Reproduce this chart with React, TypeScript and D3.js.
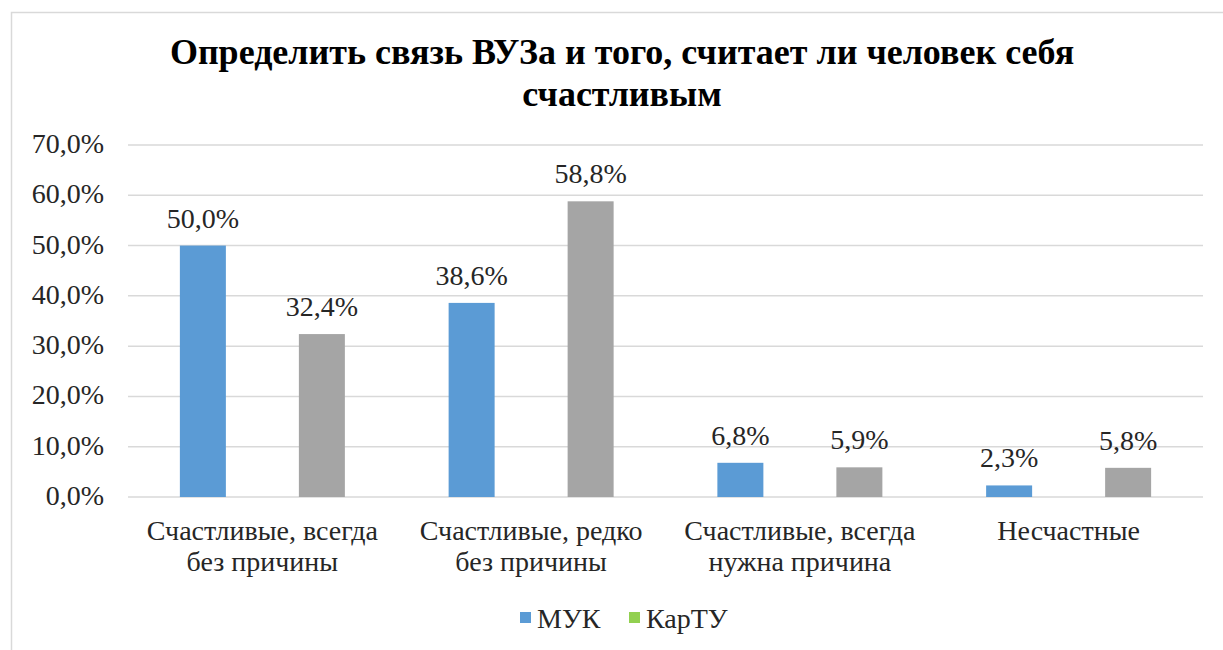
import * as d3 from "d3";

const categories = [
  ["Счастливые, всегда", "без причины"],
  ["Счастливые, редко", "без причины"],
  ["Счастливые, всегда", "нужна причина"],
  ["Несчастные"],
];
const seriesNames = ["МУК", "КарТУ"];
const mukValues = [50.0, 38.6, 6.8, 2.3];
const kartuValues = [32.4, 58.8, 5.9, 5.8];
const yTicks = [0, 10, 20, 30, 40, 50, 60, 70];

const width = 1223;
const height = 650;
const FONT = "Liberation Serif";

export default function App() {
  const plotLeft = 128;
  const plotRight = 1203;
  const y = d3.scaleLinear([0, 70], [497, 145]);
  const x0 = d3.scaleBand<number>(d3.range(categories.length), [plotLeft, plotRight]);
  const groupCenter = (i: number) => x0(i)! + x0.bandwidth() / 2;
  const barW = 46;
  const offset = 59.5;
  const fmt = (d: number) => d.toFixed(1).replace(".", ",") + "%";

  const series = [mukValues, kartuValues];
  const barColors = ["#5b9bd5", "#a5a5a5"];
  // KarTU swatch is green in the original legend
  const legendColors = ["#5b9bd5", "#92d050"];
  const legendX = [520, 629];

  return (
    <svg
      width={width}
      height={height}
      style={{ position: "absolute", left: 0, top: 0, display: "block" }}
    >
      <rect x={11.5} y={12.5} width={width + 20} height={height + 20}
        fill="#fff" stroke="#d9d9d9" strokeWidth={1.5} />

      <text fontFamily={FONT} textAnchor="middle" fontWeight="bold" fontSize={36} fill="#000">
        <tspan x={622} y={64}>Определить связь ВУЗа и того, считает ли человек себя</tspan>
        <tspan x={622} y={106}>счастливым</tspan>
      </text>

      {yTicks.map(t => (
        <line key={"g" + t} x1={plotLeft} x2={plotRight} y1={y(t)} y2={y(t)} stroke="#d9d9d9" strokeWidth={1.5} />
      ))}
      {yTicks.map(t => (
        <text key={"t" + t} fontFamily={FONT} x={104} y={y(t) + 8} textAnchor="end" fontSize={28} fill="#262626">{fmt(t)}</text>
      ))}

      {series.map((vals, s) =>
        vals.map((d, i) => {
          const cx = groupCenter(i) + (s === 0 ? -offset : offset);
          return (
            <rect key={`b${s}-${i}`} x={cx - barW / 2} y={y(d)} width={barW} height={y(0) - y(d)} fill={barColors[s]} />
          );
        })
      )}
      {series.map((vals, s) =>
        vals.map((d, i) => {
          const cx = groupCenter(i) + (s === 0 ? -offset : offset);
          return (
            <text key={`l${s}-${i}`} fontFamily={FONT} x={cx} y={y(d) - 18} textAnchor="middle" fontSize={28} fill="#262626">{fmt(d)}</text>
          );
        })
      )}

      {categories.map((lines, i) =>
        lines.map((ln, k) => (
          <text key={`c${i}-${k}`} fontFamily={FONT} x={groupCenter(i)} y={540 + k * 31} textAnchor="middle" fontSize={28} fill="#262626">{ln}</text>
        ))
      )}

      {seriesNames.map((name, s) => (
        <rect key={"r" + name} x={legendX[s]} y={612} width={11} height={11} fill={legendColors[s]} />
      ))}
      {seriesNames.map((name, s) => (
        <text key={"n" + name} fontFamily={FONT} x={legendX[s] + 17} y={628} fontSize={28} fill="#262626">{name}</text>
      ))}
    </svg>
  );
}
